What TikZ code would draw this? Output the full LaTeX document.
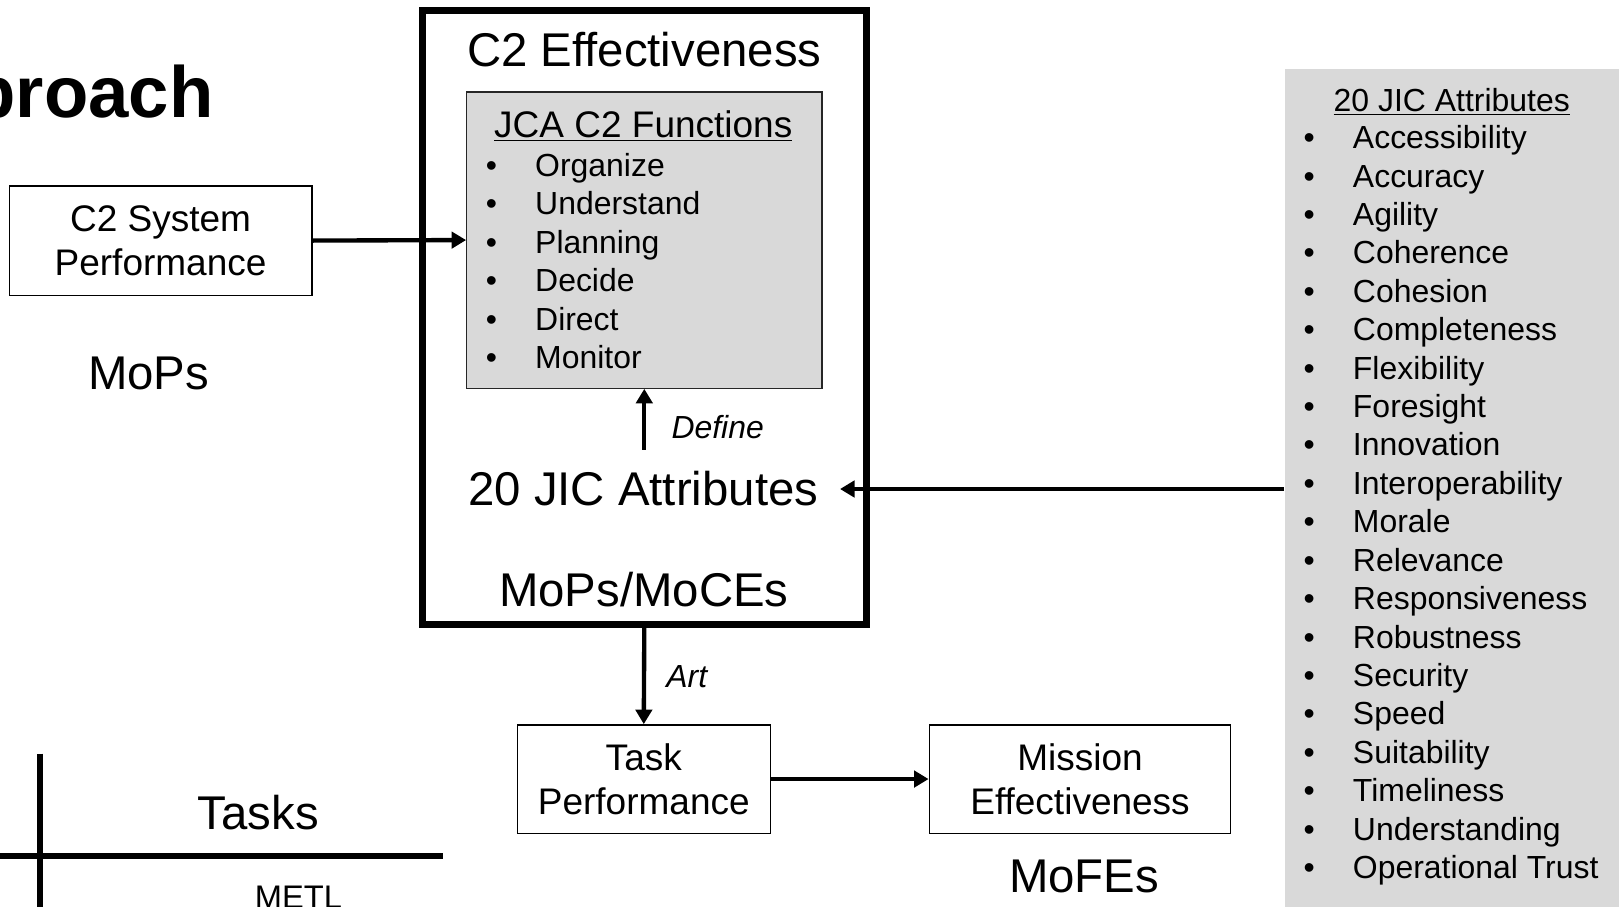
\documentclass[tikz,border=0pt]{standalone}
\usepackage{fontspec}
\setmainfont{Liberation Sans}
\usetikzlibrary{arrows.meta}
\definecolor{panelgray}{HTML}{D9D9D9}
\tikzset{
	textnode/.style = {
		inner sep=0pt,
		align=center
	},
	node_frame/.style = {
		textnode,
		draw=black,
		line width=3.6pt
	},
	node_box/.style = {
		textnode,
		draw=black,
		line width=0.8pt,
		font=\fontsize{20.4}{24.4}\selectfont
	},
	node_gray/.style = {
		textnode,
		draw=black!85,
		fill=panelgray,
		line width=0.7pt
	},
	node_panel/.style = {
		textnode,
		fill=panelgray
	},
	node_big/.style = {
		textnode,
		anchor=base,
		font=\fontsize{26.1}{31}\selectfont
	},
	node_head/.style = {
		textnode,
		anchor=base,
		font=\fontsize{17.6}{21}\selectfont
	},
	node_item/.style = {
		textnode,
		anchor=base west,
		font=\fontsize{17.6}{21}\selectfont
	},
	node_dot/.style = {
		textnode,
		anchor=base,
		font=\fontsize{17.6}{21}\selectfont
	},
	node_verb/.style = {
		textnode,
		anchor=base west,
		font=\fontsize{17.6}{21}\selectfont\itshape
	},
	link/.style = {
		line width=2.4pt
	},
	rule_line/.style = {
		-,
		line width=3.3pt
	}
}

\begin{document}
\begin{tikzpicture}[->,>={Triangle[length=8pt,width=9pt]}, x=0.02cm, y=-0.02cm]
\useasboundingbox (0,0) rectangle (1568,878);
\clip (0,0) rectangle (1568,878);

% title, cut off at the left edge
\node [textnode, anchor=base east, font=\fontsize{40}{48}\selectfont\bfseries] (title) at (207,114) {proach};

% C2 effectiveness frame
\node [node_frame, minimum width=8.6cm, minimum height=11.9cm] (eff) at (624,307.5) {};
\node [node_big] (effname) at (624,64) {C2 Effectiveness};
\node [node_gray, minimum width=6.88cm, minimum height=5.74cm] (jca) at (624,232.5) {};
\node [textnode, anchor=base, font=\fontsize{20.4}{24}\selectfont] (jcaname) at (623,133) {\underline{JCA C2 Functions}};
\foreach \fn [count=\i from 0] in {Organize, Understand, Planning, Decide, Direct, Monitor} {
	\node [node_dot] (jcadot\i) at (476,171+37.2*\i) {•};
	\node [node_item] (jcafn\i) at (518,171+37.2*\i) {\fn};
}
\node [node_big, outer sep=12pt] (attr) at (623,490) {20 JIC Attributes};
\node [node_big] (moce) at (623.5,587) {MoPs/MoCEs};

% boxes around it
\node [node_box, minimum width=5.86cm, minimum height=2.12cm] (c2sys) at (155.5,233) {C2 System\\Performance};
\node [node_big] (mops) at (144,377) {MoPs};
\node [node_box, minimum width=4.9cm, minimum height=2.1cm] (task) at (623.5,754.5) {Task\\Performance};
\node [node_box, minimum width=5.84cm, minimum height=2.1cm] (mission) at (1046,754.5) {Mission\\Effectiveness};
\node [node_big] (mofe) at (1050,864) {MoFEs};

% attribute list on the right
\node [node_panel, minimum width=6.72cm, minimum height=16.46cm] (panel) at (1412,478.5) {};
\node [node_head] (panelname) at (1406,108) {\underline{20 JIC Attributes}};
\foreach \at [count=\i from 0] in {Accessibility, Accuracy, Agility, Coherence, Cohesion, Completeness, Flexibility, Foresight, Innovation, Interoperability, Morale, Relevance, Responsiveness, Robustness, Security, Speed, Suitability, Timeliness, Understanding, Operational Trust} {
	\node [node_dot] (atdot\i) at (1268,144+37.2*\i) {•};
	\node [node_item] (atname\i) at (1310,144+37.2*\i) {\at};
}

% connectors
\draw [link] (c2sys.east) -- (jca.west);
\draw [link] (jca.south |- attr.north) -- (jca.south);
\node [node_verb] (define) at (650,425) {Define};
\draw [link] (panel.west |- attr.east) -- (attr.east);
\draw [link] (eff.south) -- (task.north);
\node [node_verb] (art) at (645,666) {Art};
\draw [link] (task.east) -- (mission.west);

% table corner at the bottom left
\draw [rule_line] (0,829) -- (429,829);
\draw [rule_line] (39,730) -- (39,878);
\node [node_big] (tasks) at (250,803) {Tasks};
\node [textnode, anchor=base, font=\fontsize{18}{22}\selectfont] (metl) at (289,880) {METL};
\end{tikzpicture}
\end{document}
